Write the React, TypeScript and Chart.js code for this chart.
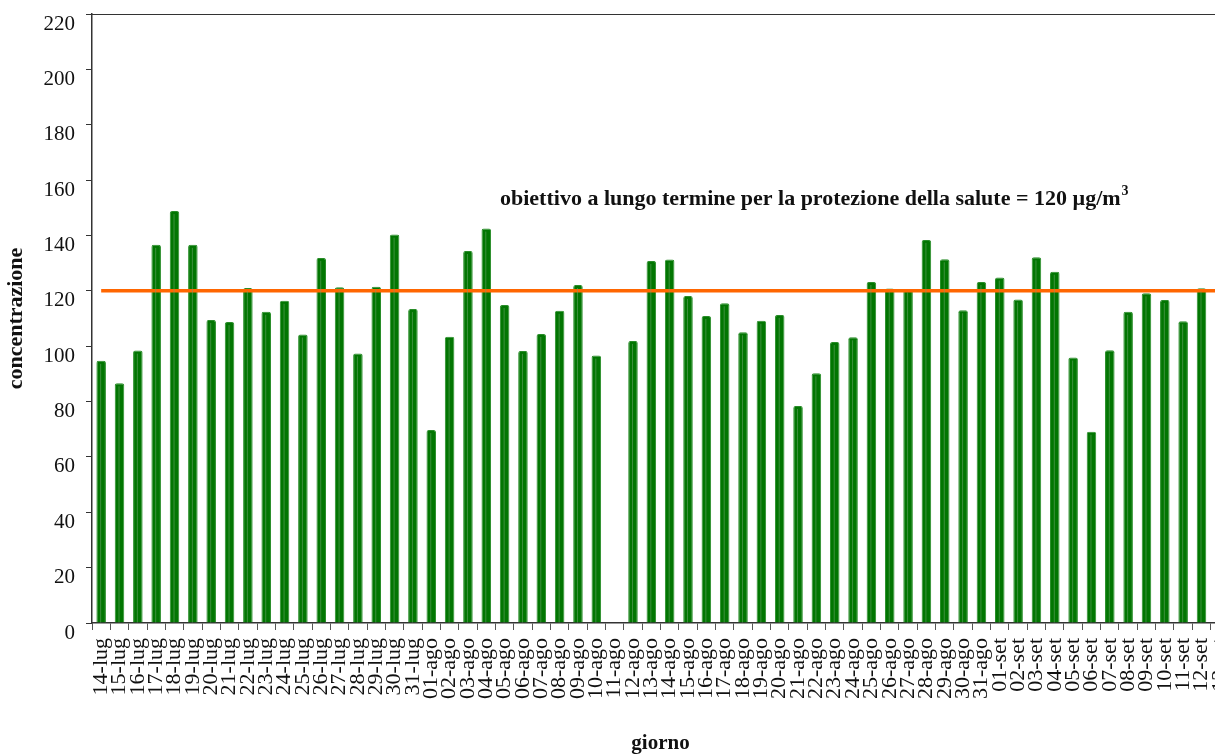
import React, { useEffect, useRef } from "react";
import { Chart, registerables } from "chart.js";

Chart.register(...registerables);

const lugDays = ["14-lug","15-lug","16-lug","17-lug","18-lug","19-lug","20-lug","21-lug","22-lug","23-lug","24-lug","25-lug","26-lug","27-lug","28-lug","29-lug","30-lug","31-lug"];
const agoDays = ["01-ago","02-ago","03-ago","04-ago","05-ago","06-ago","07-ago","08-ago","09-ago","10-ago","11-ago","12-ago","13-ago","14-ago","15-ago","16-ago","17-ago","18-ago","19-ago","20-ago","21-ago","22-ago","23-ago","24-ago","25-ago","26-ago","27-ago","28-ago","29-ago","30-ago","31-ago"];
const setDays = ["01-set","02-set","03-set","04-set","05-set","06-set","07-set","08-set","09-set","10-set","11-set","12-set","13-set"];

const lugValues = [94.7, 86.6, 98.4, 136.6, 148.8, 136.6, 109.5, 108.7, 121.0, 112.4, 116.4, 104.2, 131.9, 121.3, 97.4, 121.5, 140.3, 113.4];
const agoValues = [69.7, 103.4, 134.4, 142.5, 114.9, 98.3, 104.4, 112.8, 122.1, 96.6, null, 101.9, 130.8, 131.3, 118.1, 110.9, 115.5, 105.0, 109.2, 111.3, 78.4, 90.2, 101.5, 103.2, 123.2, 120.8, 120.5, 138.4, 131.4, 113.0, 123.2];
const setValues = [124.8, 116.9, 132.1, 126.9, 95.9, 69.1, 98.5, 112.4, 119.1, 116.7, 109.0, 120.9, 121.0];

const TARGET = 120;
const yTicks = [0, 20, 40, 60, 80, 100, 120, 140, 160, 180, 200, 220];
const annotationText = "obiettivo a lungo termine per la protezione della salute = 120 µg/m";
const annotationSup = "3";

const categories = [...lugDays, ...agoDays, ...setDays];
const concentrations = [...lugValues, ...agoValues, ...setValues];
const targetLine = categories.map(() => TARGET);

const SERIF = '"Liberation Serif", "Times New Roman", serif';

const framePlugin = {
  id: "frameAndNote",
  afterDatasetsDraw(chart: any) {
    const { ctx } = chart;
    const meta = chart.getDatasetMeta(0);
    ctx.save();
    meta.data.forEach((bar: any) => {
      const { x, y, base } = bar.getProps(["x", "y", "base"], true);
      if (!isFinite(y) || Math.abs(base - y) < 4) return;
      ctx.fillStyle = "rgba(110,165,110,0.55)";
      ctx.fillRect(x - 1, y + 3, 1, base - y - 3);
    });
    ctx.restore();
  },
  afterDraw(chart: any) {
    const { ctx, chartArea, scales } = chart;
    ctx.save();
    ctx.strokeStyle = "#333";
    ctx.lineWidth = 1.2;
    ctx.beginPath();
    ctx.moveTo(chartArea.left, chartArea.top + 0.5);
    ctx.lineTo(chartArea.right, chartArea.top + 0.5);
    ctx.stroke();

    const x0 = chartArea.left + 408;
    const yb = scales.y.getPixelForValue(151);
    ctx.fillStyle = "#111";
    ctx.font = `bold 22px ${SERIF}`;
    ctx.textBaseline = "alphabetic";
    ctx.textAlign = "left";
    ctx.fillText(annotationText, x0, yb);
    const w = ctx.measureText(annotationText).width;
    ctx.font = `bold 14px ${SERIF}`;
    ctx.fillText(annotationSup, x0 + w + 1, yb - 10);
    ctx.restore();
  },
};

export default function App() {
  const ref = useRef<HTMLCanvasElement>(null);

  useEffect(() => {
    if (!ref.current) return;
    const chart = new Chart(ref.current, {
      type: "bar",
      data: {
        labels: categories,
        datasets: [
          {
            type: "bar",
            label: "concentrazione",
            data: concentrations as any,
            backgroundColor: "#027602",
            borderColor: "rgba(30,135,30,0.95)",
            borderWidth: 1,
            borderRadius: 2,
            borderSkipped: "bottom",
            barPercentage: 0.52,
            categoryPercentage: 1,
            order: 2,
          },
          {
            type: "line",
            label: "obiettivo",
            data: targetLine,
            borderColor: "#ff6600",
            borderWidth: 3.5,
            pointRadius: 0,
            fill: false,
            order: 1,
          },
        ],
      },
      options: {
        animation: false,
        responsive: false,
        devicePixelRatio: 1,
        layout: { padding: { top: 14, right: 0, left: 0, bottom: 0 } },
        plugins: {
          legend: { display: false },
          tooltip: { enabled: false },
        },
        scales: {
          x: {
            offset: true,
            grid: {
              display: true,
              offset: true,
              drawOnChartArea: false,
              drawTicks: true,
              tickLength: 7,
              color: "#555",
            },
            border: { display: true, color: "#333", width: 1.5 },
            ticks: {
              autoSkip: false,
              maxRotation: 90,
              minRotation: 90,
              padding: 8,
              color: "#111",
              font: { family: SERIF, size: 22 },
            },
            title: {
              display: true,
              text: "giorno",
              color: "#111",
              font: { family: SERIF, size: 21, weight: "bold" },
              padding: { top: 0, bottom: 0 },
            },
            afterFit: (scale: any) => {
              scale.height = 133;
              scale.paddingLeft = 0;
              scale.paddingRight = 0;
            },
          },
          y: {
            min: 0,
            max: 220,
            afterBuildTicks: (scale: any) => {
              scale.ticks = yTicks.map((v) => ({ value: v }));
            },
            grid: {
              display: true,
              drawOnChartArea: false,
              drawTicks: true,
              tickLength: 6,
              color: "#333",
            },
            border: { display: true, color: "#333", width: 1.5 },
            ticks: {
              padding: 11,
              labelOffset: 10,
              color: "#111",
              font: { family: SERIF, size: 21 },
            },
            title: {
              display: true,
              text: "concentrazione",
              color: "#111",
              font: { family: SERIF, size: 22, weight: "bold" },
              padding: { top: 3, bottom: 0 },
            },
            afterFit: (scale: any) => {
              scale.width = 92;
              scale.paddingTop = 0;
              scale.paddingBottom = 0;
            },
          },
        },
      },
      plugins: [framePlugin],
    });
    return () => chart.destroy();
  }, []);

  return (
    <div
      style={{
        position: "fixed",
        left: 0,
        top: 0,
        width: 1215,
        height: 756,
        overflow: "hidden",
        background: "#fff",
      }}
    >
      <canvas ref={ref} width={1229} height={756} style={{ display: "block" }} />
    </div>
  );
}
